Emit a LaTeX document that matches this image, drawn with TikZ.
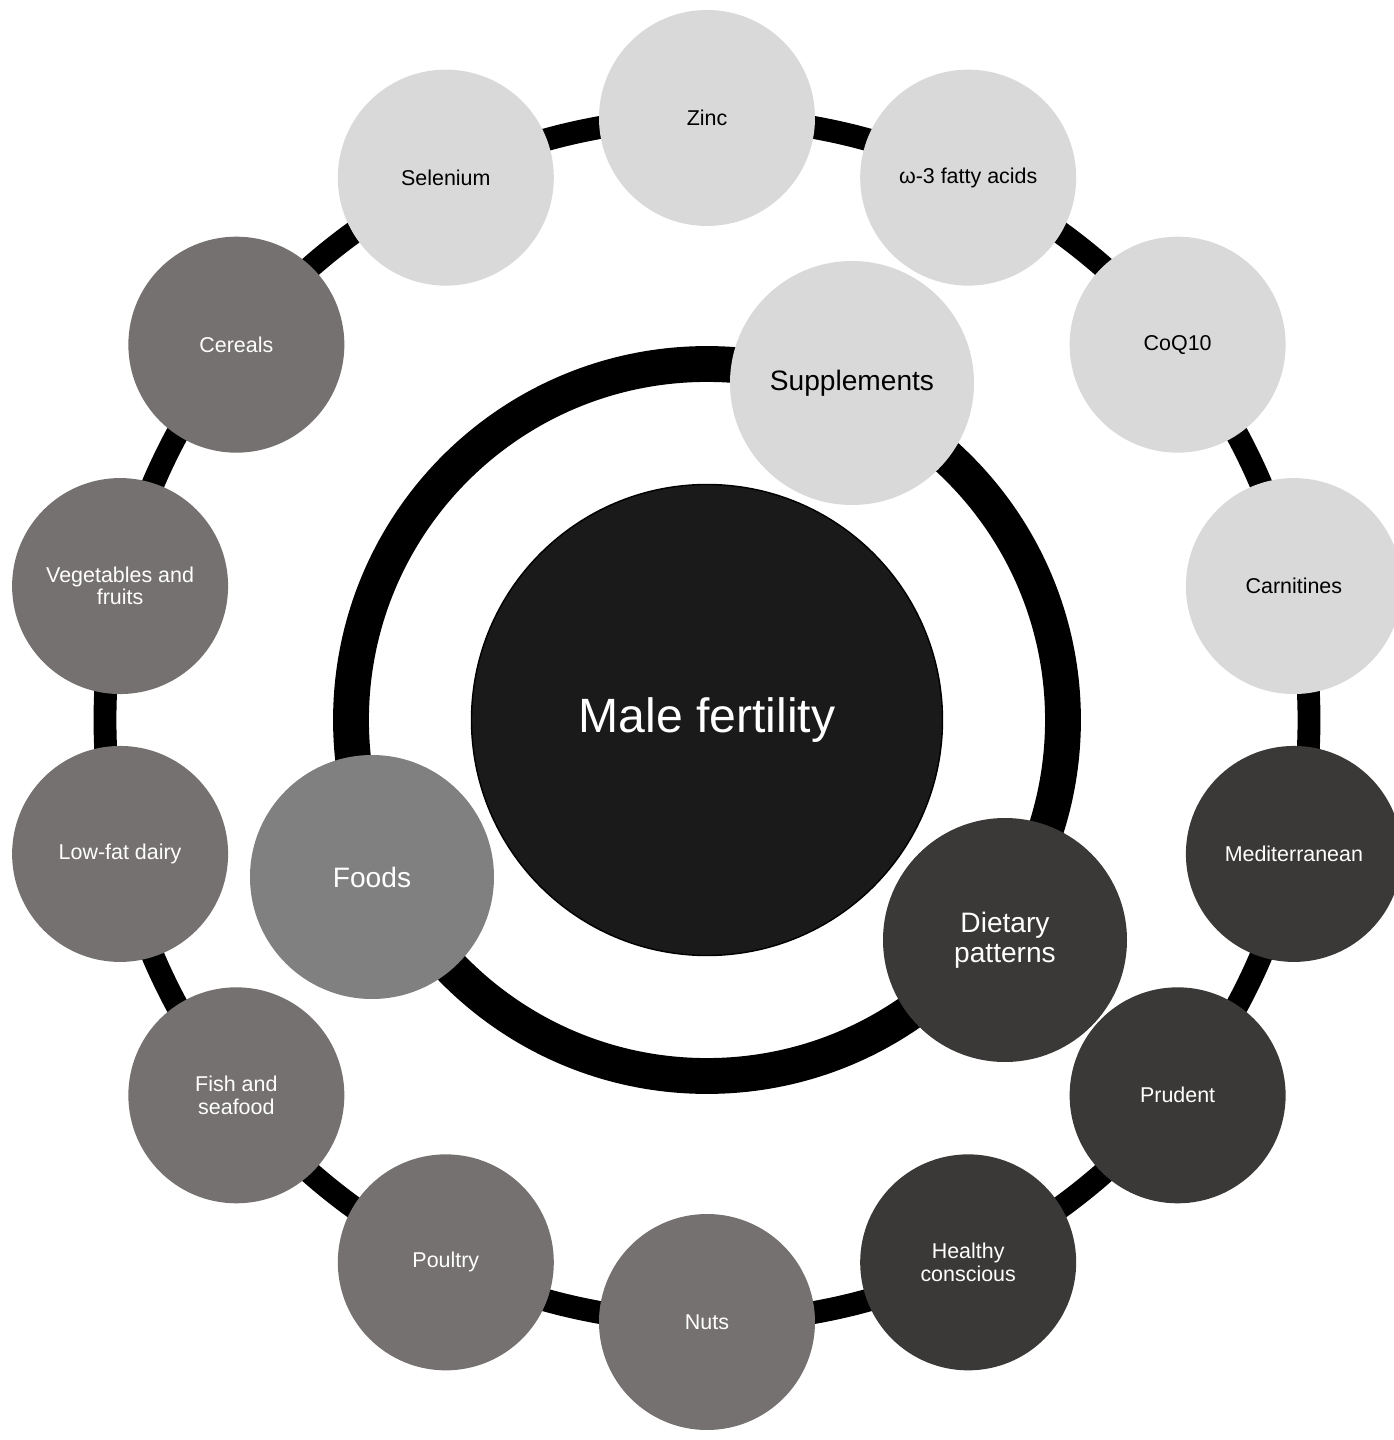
\documentclass[tikz,border=0pt]{standalone}
\usepackage{fontspec}
\setmainfont{Liberation Sans}
\definecolor{supgray}{HTML}{D9D9D9}
\definecolor{foodgray}{HTML}{757170}
\definecolor{foodmain}{HTML}{808080}
\definecolor{dietgray}{HTML}{3B3938}
\definecolor{coregray}{HTML}{1A1A1A}
\begin{document}
\begin{tikzpicture}
  [every node/.style={circle,inner sep=0pt,align=center}]
  \tikzstyle{leaf} = [minimum size=2.16cm,font=\fontsize{6.1}{6.3}\selectfont]
  \tikzstyle{hub} = [minimum size=2.44cm,font=\fontsize{8}{8.6}\selectfont]
  \tikzstyle{sup} = [fill=supgray,text=black]
  \tikzstyle{food} = [fill=foodgray,text=white]
  \tikzstyle{diet} = [fill=dietgray,text=white]
  \useasboundingbox (-7.07,-7.20) rectangle (6.87,7.20);

  % rings
  \node[minimum size=1pt] (mid) at (0,0) {};
  \draw[line width=6.5pt] (mid.center) circle (6.02);
  \draw[line width=10.2pt] (mid.center) circle (3.56);

  % outer circles
\foreach \name /\k /\kind /\txt in {zn/0/sup/Zinc, om/1/sup/ω-3 fatty acids,
    cq/2/sup/CoQ10, ca/3/sup/Carnitines, me/4/diet/Mediterranean,
    pr/5/diet/Prudent, hc/6/diet/Healthy\\conscious, nu/7/food/Nuts,
    po/8/food/Poultry, fi/9/food/Fish and\\seafood, lf/10/food/Low-fat dairy,
    vf/11/food/Vegetables and\\fruits, ce/12/food/Cereals, se/13/sup/Selenium}
   \node[leaf,\kind] (\name) at ({90-\k*360/14}:6.02) {\txt};

  % core
  \node[draw=black,fill=coregray,text=white,minimum size=4.71cm,
    font=\fontsize{13.7}{14.5}\selectfont] (mf) at (mid) {\raisebox{-1pt}{Male fertility}};
  \node[hub,sup] (supp) at (1.45,3.37) {Supplements};
  \node[hub,fill=foodmain,text=white] (foods) at (-3.35,-1.57) {Foods};
  \node[hub,diet] (pat) at (2.98,-2.20) {Dietary\\patterns};

\end{tikzpicture}
\end{document}
